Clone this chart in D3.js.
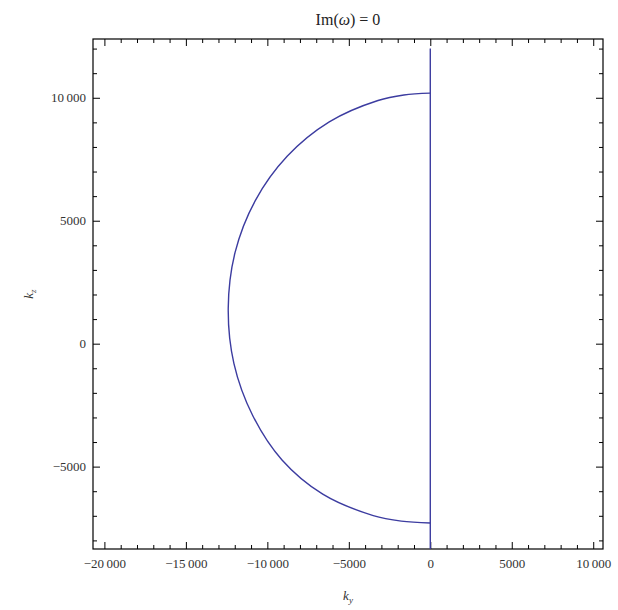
<!DOCTYPE html>
<html>
<head>
<meta charset="utf-8">
<script src="https://cdn.jsdelivr.net/npm/d3@7"></script>
<style>
  body { margin: 0; background: #fff; }
  text { font-family: "Liberation Serif", "DejaVu Serif", serif; }
</style>
</head>
<body>
<div id="chart"></div>
<script>
// contour Im(omega) = 0 (top end -> bottom end)
const arcKy = [0, -1620, -3210, -6200, -8770, -10740, -11980, -12400, -12050, -10900, -9100, -6600, -3500, -1780, 0];
const arcKz = [10190, 10115, 9890, 9020, 7630, 5820, 3710, 1450, -810, -2920, -4730, -6120, -6990, -7215, -7290];
const lineKy = [0, 0];
const lineKz = [12000, -8350];

const xTicks = [-20000, -15000, -10000, -5000, 0, 5000, 10000];
const yTicks = [-5000, 0, 5000, 10000];
const xDomain = [-20700, 10600];
const yDomain = [-8350, 12390];

const W = 618, H = 610;
const margin = { top: 39, right: 15, bottom: 61, left: 93 };
const width = W - margin.left - margin.right;
const height = H - margin.top - margin.bottom;

const svg = d3.select("#chart").append("svg")
    .attr("width", W)
    .attr("height", H);

const g = svg.append("g")
    .attr("transform", "translate(" + margin.left + "," + margin.top + ")");

const x = d3.scaleLinear().domain(xDomain).range([0, width]);
const y = d3.scaleLinear().domain(yDomain).range([height, 0]);

let fmt = (v) => {
    let s = Math.abs(v) >= 10000 ? d3.format("d")(Math.abs(v)).replace(/(\d\d)(\d\d\d)$/, "$1\u2009$2") : d3.format("d")(Math.abs(v));
    return (v < 0 ? "\u2212" : "") + s;
};

let minorX = d3.range(-20000, 10001, 1000).filter(d => d % 5000 !== 0);
let minorY = d3.range(-8000, 12001, 1000).filter(d => d % 5000 !== 0);

let styleAxis = (sel) => {
    sel.select(".domain").remove();
    sel.selectAll("line").attr("stroke", "#000").attr("stroke-width", 1);
    sel.selectAll("text").attr("fill", "#333").attr("font-size", 13);
};

// bottom + top, major and minor
g.append("g").attr("transform", "translate(0," + height + ")")
    .call(d3.axisBottom(x).tickValues(xTicks).tickSize(-7).tickPadding(10).tickFormat(fmt))
    .call(styleAxis);
g.append("g").attr("transform", "translate(0," + height + ")")
    .call(d3.axisBottom(x).tickValues(minorX).tickSize(-4).tickFormat(""))
    .call(styleAxis);
g.append("g")
    .call(d3.axisTop(x).tickValues(xTicks).tickSize(-7).tickFormat(""))
    .call(styleAxis);
g.append("g")
    .call(d3.axisTop(x).tickValues(minorX).tickSize(-4).tickFormat(""))
    .call(styleAxis);

// left + right
g.append("g")
    .call(d3.axisLeft(y).tickValues(yTicks).tickSize(-7).tickPadding(7).tickFormat(fmt))
    .call(styleAxis);
g.append("g")
    .call(d3.axisLeft(y).tickValues(minorY).tickSize(-4).tickFormat(""))
    .call(styleAxis);
g.append("g").attr("transform", "translate(" + width + ",0)")
    .call(d3.axisRight(y).tickValues(yTicks).tickSize(-7).tickFormat(""))
    .call(styleAxis);
g.append("g").attr("transform", "translate(" + width + ",0)")
    .call(d3.axisRight(y).tickValues(minorY).tickSize(-4).tickFormat(""))
    .call(styleAxis);

// frame
g.append("rect")
    .attr("width", width)
    .attr("height", height)
    .attr("fill", "none")
    .attr("stroke", "#000")
    .attr("stroke-width", 1.2);

let line = d3.line()
    .x(d => x(d[0]))
    .y(d => y(d[1]))
    .curve(d3.curveCatmullRom);

g.append("path")
    .datum(arcKy.map((v, i) => [v, arcKz[i]]))
    .attr("d", line)
    .attr("fill", "none")
    .attr("stroke", "#3c3ca0")
    .attr("stroke-width", 1.4);

g.append("path")
    .datum(lineKy.map((v, i) => [v, lineKz[i]]))
    .attr("d", d3.line().x(d => x(d[0])).y(d => y(d[1])))
    .attr("fill", "none")
    .attr("stroke", "#3c3ca0")
    .attr("stroke-width", 1.4);

// title and axis labels
let title = svg.append("text")
    .attr("x", margin.left + width / 2)
    .attr("y", 25)
    .attr("text-anchor", "middle")
    .attr("font-size", 16)
    .attr("fill", "#222");
title.append("tspan").text("Im(");
title.append("tspan").attr("font-style", "italic").text("\u03C9");
title.append("tspan").text(") = 0");

let xl = svg.append("text")
    .attr("x", margin.left + width / 2)
    .attr("y", 600)
    .attr("text-anchor", "middle")
    .attr("font-size", 13)
    .attr("font-style", "italic")
    .attr("fill", "#333");
xl.append("tspan").text("k");
xl.append("tspan").attr("font-size", 9).attr("dy", 3).text("y");

let yl = svg.append("text")
    .attr("transform", "translate(33," + (margin.top + height / 2) + ") rotate(-90)")
    .attr("text-anchor", "middle")
    .attr("font-size", 13)
    .attr("font-style", "italic")
    .attr("fill", "#333");
yl.append("tspan").text("k");
yl.append("tspan").attr("font-size", 9).attr("dy", 3).text("z");
</script>
</body>
</html>
